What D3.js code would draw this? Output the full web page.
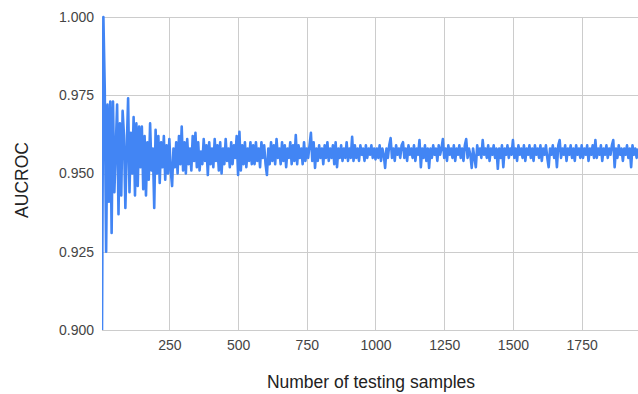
<!DOCTYPE html>
<html>
<head>
<meta charset="utf-8">
<script src="https://cdn.jsdelivr.net/npm/d3@7"></script>
<style>
  html, body { margin: 0; padding: 0; background: #fff; }
  svg { display: block; font-family: Arial, "Liberation Sans", sans-serif; }
</style>
</head>
<body>
<div id="chart"></div>
<script>
// AUCROC, one value every 5 testing samples (5 .. 1955)
const firstSample = 5;
const sampleStep = 5;
const auc = [
  0.900, 1.000, 0.977, 0.925, 0.972, 0.941, 0.973, 0.931, 0.973, 0.944,
  0.958, 0.972, 0.937, 0.966, 0.943, 0.970, 0.962, 0.939, 0.958, 0.974,
  0.944, 0.963, 0.950, 0.968, 0.943, 0.966, 0.946, 0.965, 0.952, 0.965,
  0.945, 0.962, 0.943, 0.960, 0.948, 0.966, 0.951, 0.958, 0.939, 0.964,
  0.950, 0.962, 0.947, 0.960, 0.952, 0.962, 0.948, 0.959, 0.950, 0.961,
  0.951, 0.946, 0.958, 0.952, 0.960, 0.950, 0.962, 0.953, 0.965, 0.951,
  0.960, 0.950, 0.961, 0.953, 0.958, 0.951, 0.962, 0.954, 0.963, 0.952,
  0.960, 0.951, 0.957, 0.953, 0.961, 0.954, 0.959, 0.9495, 0.960, 0.953,
  0.958, 0.952, 0.961, 0.954, 0.959, 0.951, 0.960, 0.950, 0.958, 0.953,
  0.961, 0.954, 0.958, 0.952, 0.960, 0.953, 0.959, 0.955, 0.962, 0.9495,
  0.9633, 0.951, 0.959, 0.953, 0.960, 0.952, 0.958, 0.954, 0.960, 0.953,
  0.959, 0.953, 0.960, 0.954, 0.958, 0.952, 0.960, 0.955, 0.959, 0.953,
  0.9495, 0.958, 0.953, 0.960, 0.954, 0.959, 0.953, 0.961, 0.955, 0.958,
  0.953, 0.960, 0.954, 0.959, 0.952, 0.958, 0.955, 0.960, 0.953, 0.959,
  0.954, 0.9623, 0.953, 0.959, 0.955, 0.958, 0.953, 0.960, 0.954, 0.958,
  0.955, 0.959, 0.963, 0.954, 0.960, 0.9518, 0.958, 0.954, 0.959, 0.955,
  0.958, 0.953, 0.959, 0.955, 0.960, 0.954, 0.958, 0.955, 0.959, 0.953,
  0.960, 0.952, 0.958, 0.955, 0.959, 0.954, 0.958, 0.955, 0.960, 0.954,
  0.958, 0.955, 0.9617, 0.954, 0.959, 0.955, 0.958, 0.954, 0.959, 0.956,
  0.958, 0.954, 0.959, 0.955, 0.958, 0.956, 0.959, 0.955, 0.958, 0.9545,
  0.958, 0.955, 0.959, 0.954, 0.958, 0.956, 0.9518, 0.958, 0.955, 0.959,
  0.9613, 0.955, 0.958, 0.954, 0.959, 0.956, 0.958, 0.955, 0.959, 0.960,
  0.955, 0.958, 0.954, 0.959, 0.956, 0.958, 0.955, 0.959, 0.954, 0.958,
  0.956, 0.9607, 0.952, 0.958, 0.955, 0.959, 0.954, 0.958, 0.9518, 0.958,
  0.955, 0.959, 0.956, 0.958, 0.954, 0.959, 0.956, 0.958, 0.9610, 0.955,
  0.958, 0.954, 0.959, 0.956, 0.958, 0.955, 0.959, 0.954, 0.958, 0.956,
  0.959, 0.955, 0.958, 0.954, 0.959, 0.9610, 0.955, 0.958, 0.956, 0.9518,
  0.958, 0.955, 0.952, 0.959, 0.956, 0.958, 0.955, 0.9607, 0.956, 0.958,
  0.955, 0.959, 0.954, 0.958, 0.956, 0.959, 0.955, 0.958, 0.9515, 0.958,
  0.955, 0.959, 0.952, 0.958, 0.956, 0.959, 0.955, 0.958, 0.956, 0.9607,
  0.955, 0.958, 0.954, 0.959, 0.956, 0.958, 0.955, 0.959, 0.954, 0.958,
  0.956, 0.959, 0.955, 0.958, 0.954, 0.959, 0.956, 0.958, 0.955, 0.959,
  0.954, 0.958, 0.956, 0.959, 0.955, 0.952, 0.958, 0.956, 0.959, 0.955,
  0.958, 0.952, 0.959, 0.9607, 0.955, 0.958, 0.956, 0.959, 0.954, 0.958,
  0.956, 0.959, 0.955, 0.958, 0.954, 0.959, 0.956, 0.958, 0.955, 0.959,
  0.955, 0.958, 0.956, 0.959, 0.954, 0.958, 0.956, 0.959, 0.955, 0.9607,
  0.955, 0.958, 0.956, 0.959, 0.954, 0.958, 0.956, 0.959, 0.955, 0.958,
  0.956, 0.959, 0.9607, 0.952, 0.958, 0.955, 0.959, 0.956, 0.958, 0.954,
  0.958, 0.956, 0.959, 0.955, 0.958, 0.952, 0.959, 0.956, 0.958, 0.955,
  0.958
];

const xTicks = [250, 500, 750, 1000, 1250, 1500, 1750];
const yTicks = [0.900, 0.925, 0.950, 0.975, 1.000];

const width = 638;
const height = 394;
const margin = { top: 17, right: 0, bottom: 64, left: 102 };
const plotW = width - margin.left - margin.right;
const plotH = height - margin.top - margin.bottom;

const data = auc.map((v, i) => ({ samples: firstSample + i * sampleStep, auc: v }));

const x = d3.scaleLinear()
  .domain([firstSample, firstSample + (auc.length - 1) * sampleStep])
  .range([margin.left, margin.left + plotW]);
const y = d3.scaleLinear()
  .domain([0.9, 1.0])
  .range([margin.top + plotH, margin.top]);

const svg = d3.select("#chart").append("svg")
  .attr("width", width)
  .attr("height", height);

// horizontal grid + y labels
const gY = svg.append("g")
  .attr("transform", `translate(${margin.left},0)`)
  .call(d3.axisLeft(y).tickValues(yTicks).tickFormat(d3.format(".3f"))
    .tickSize(-plotW).tickPadding(8));
gY.select(".domain").remove();
gY.selectAll(".tick line").attr("stroke", "#cccccc").attr("shape-rendering", "crispEdges");
gY.selectAll(".tick text").attr("fill", "#444").attr("font-size", 14)
  .attr("font-family", "Arial, 'Liberation Sans', sans-serif");

// vertical grid + x labels
const gX = svg.append("g")
  .attr("transform", `translate(0,${margin.top + plotH})`)
  .call(d3.axisBottom(x).tickValues(xTicks).tickFormat(d3.format("d"))
    .tickSize(-plotH).tickPadding(10));
gX.select(".domain").remove();
gX.selectAll(".tick line").attr("stroke", "#cccccc").attr("shape-rendering", "crispEdges");
gX.selectAll(".tick text").attr("fill", "#444").attr("font-size", 14)
  .attr("font-family", "Arial, 'Liberation Sans', sans-serif");

// line, clipped at the left edge of the plot
svg.append("clipPath").attr("id", "plot-clip")
  .append("rect")
  .attr("x", margin.left).attr("y", 0)
  .attr("width", plotW + 4).attr("height", height);

svg.append("path")
  .datum(data)
  .attr("clip-path", "url(#plot-clip)")
  .attr("fill", "none")
  .attr("stroke", "#4285F4")
  .attr("stroke-width", 2.6)
  .attr("stroke-linejoin", "round")
  .attr("d", d3.line().x(d => x(d.samples)).y(d => y(d.auc)));

// axis titles
svg.append("text")
  .attr("x", 371)
  .attr("y", 388)
  .attr("text-anchor", "middle")
  .attr("font-size", 17.5)
  .attr("fill", "#222")
  .text("Number of testing samples");

svg.append("text")
  .attr("transform", "translate(28,180) rotate(-90)")
  .attr("text-anchor", "middle")
  .attr("font-size", 17.5)
  .attr("fill", "#222")
  .text("AUCROC");
</script>
</body>
</html>
